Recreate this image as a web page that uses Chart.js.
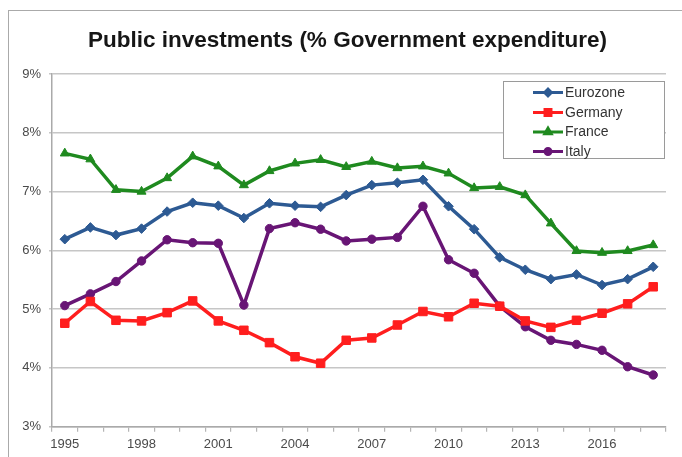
<!DOCTYPE html>
<html>
<head>
<meta charset="utf-8">
<script src="https://cdn.jsdelivr.net/npm/chart.js@4/dist/chart.umd.min.js"></script>
<style>
  html, body { margin: 0; padding: 0; background: #fff; overflow: hidden; }
  #wrap { position: relative; width: 682px; height: 457px; overflow: hidden; }
  #frame { position: absolute; left: 8px; top: 10px; width: 720px; height: 520px;
           border-top: 1.5px solid #aaa; border-left: 1.5px solid #aaa; }
  canvas { position: absolute; left: 0; top: 0; }
</style>
</head>
<body>
<div id="wrap">
  <div id="frame"></div>
  <canvas id="chart" width="682" height="457"></canvas>
</div>
<script>
// Public investment as a share of government expenditure, 1995-2018
const years = ['1995','1996','1997','1998','1999','2000','2001','2002','2003','2004','2005','2006',
               '2007','2008','2009','2010','2011','2012','2013','2014','2015','2016','2017','2018'];
const xTickLabels = ['1995','1998','2001','2004','2007','2010','2013','2016'];
const eurozone = [6.19,6.39,6.26,6.37,6.66,6.81,6.76,6.55,6.80,6.76,6.74,6.94,7.11,7.15,7.20,6.75,6.36,5.88,5.67,5.51,5.59,5.41,5.51,5.72];
const germany  = [4.76,5.13,4.81,4.80,4.94,5.14,4.80,4.64,4.43,4.19,4.08,4.47,4.51,4.73,4.96,4.87,5.10,5.05,4.80,4.69,4.81,4.93,5.09,5.38];
const france   = [7.65,7.55,7.03,7.00,7.23,7.60,7.43,7.11,7.35,7.48,7.54,7.42,7.51,7.40,7.43,7.31,7.06,7.08,6.94,6.46,5.99,5.96,5.99,6.09];
const italy    = [5.06,5.26,5.47,5.82,6.18,6.13,6.12,5.07,6.37,6.47,6.36,6.16,6.19,6.22,6.75,5.84,5.61,5.05,4.70,4.47,4.40,4.30,4.02,3.88];
const seriesNames = ['Eurozone','Germany','France','Italy'];
const titleText = 'Public investments (% Government expenditure)';

const FONT = '"Liberation Sans", Arial, Helvetica, sans-serif';

function series(label, data, color, style, radius) {
  return {
    label, data,
    borderColor: color, backgroundColor: color,
    pointBackgroundColor: color, pointBorderColor: color,
    borderWidth: 3.5, pointStyle: style, pointRadius: radius, pointBorderWidth: 1,
    tension: 0, fill: false
  };
}

// Title drawn above the plot
const titlePlugin = {
  id: 'titleText',
  afterDraw(chart) {
    const ctx = chart.ctx;
    ctx.save();
    ctx.font = 'bold 22.5px ' + FONT;
    ctx.fillStyle = '#161616';
    ctx.textAlign = 'center';
    ctx.textBaseline = 'middle';
    ctx.fillText(titleText, 347.5, 41);
    ctx.restore();
  }
};

// Boxed legend inside the top-right of the plot
const boxLegend = {
  id: 'boxLegend',
  afterDraw(chart) {
    const ctx = chart.ctx;
    const bx = 503.5, by = 81.5, bw = 161, bh = 77;
    ctx.save();
    ctx.fillStyle = '#fff';
    ctx.fillRect(bx, by, bw, bh);
    ctx.strokeStyle = '#9a9a9a';
    ctx.lineWidth = 1;
    ctx.strokeRect(bx, by, bw, bh);
    const rows = [92.5, 112.5, 132, 151.5];
    chart.data.datasets.forEach((ds, i) => {
      const y = rows[i];
      ctx.strokeStyle = ds.borderColor;
      ctx.lineWidth = 3;
      ctx.beginPath();
      ctx.moveTo(533, y);
      ctx.lineTo(563, y);
      ctx.stroke();
      Chart.helpers.drawPoint(ctx, {
        pointStyle: ds.pointStyle, radius: ds.pointRadius * 0.7, rotation: 0, borderWidth: 1
      }, 548, y);
      ctx.fillStyle = ds.borderColor;
      ctx.fill();
      ctx.font = '14px ' + FONT;
      ctx.fillStyle = '#333';
      ctx.textAlign = 'left';
      ctx.textBaseline = 'middle';
      ctx.fillText(ds.label, 565, y + 0.5);
    });
    ctx.restore();
  }
};

new Chart(document.getElementById('chart'), {
  type: 'line',
  data: {
    labels: years,
    datasets: [
      series(seriesNames[0], eurozone, '#2D5A93', 'rectRot', 4.8),
      series(seriesNames[1], germany,  '#FF1E1E', 'rect', 6),
      series(seriesNames[2], france,   '#1F8A1F', 'triangle', 5.2),
      series(seriesNames[3], italy,    '#681575', 'circle', 4.2)
    ]
  },
  options: {
    responsive: false,
    animation: false,
    devicePixelRatio: 1,
    layout: { padding: { top: 74, right: 16, bottom: 0, left: 0 } },
    plugins: { legend: { display: false }, title: { display: false }, tooltip: { enabled: false } },
    scales: {
      x: {
        type: 'category',
        offset: true,
        afterFit(scale) { scale.height = 30.3; },
        grid: { offset: true, drawOnChartArea: false, drawTicks: true, tickLength: 5, color: '#b5b5b5', lineWidth: 1.2 },
        border: { display: true, color: '#aaa', width: 1.5 },
        ticks: {
          autoSkip: false, maxRotation: 0, padding: 5,
          color: '#4a4a4a', font: { family: FONT, size: 13 },
          callback(v, i) { return xTickLabels.includes(years[i]) ? years[i] : ''; }
        }
      },
      y: {
        min: 3, max: 9,
        afterFit(scale) { scale.width = 52; },
        grid: { color: '#c6c6c6', lineWidth: 1.5, drawTicks: true, tickLength: 3 },
        border: { display: true, color: '#aaa', width: 1.5 },
        ticks: {
          stepSize: 1, padding: 8,
          color: '#4a4a4a', font: { family: FONT, size: 13 },
          callback(v) { return v + '%'; }
        }
      }
    }
  },
  plugins: [titlePlugin, boxLegend]
});
</script>
</body>
</html>
